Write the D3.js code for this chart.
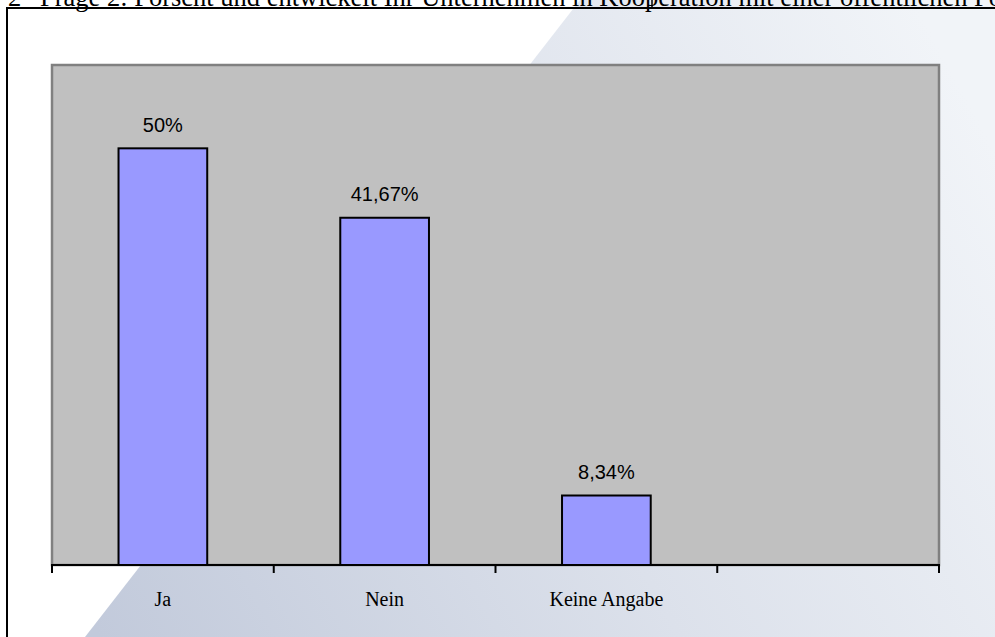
<!DOCTYPE html>
<html>
<head>
<meta charset="utf-8">
<script src="https://d3js.org/d3.v7.min.js"></script>
<style>
html,body{margin:0;padding:0;background:#fff;overflow:hidden;}
svg{display:block;}
</style>
</head>
<body>
<svg id="chart" width="995" height="637"></svg>
<script>
const categories = ["Ja", "Nein", "Keine Angabe", ""];
const values = [50, 41.67, 8.34, null];
const valueLabels = ["50%", "41,67%", "8,34%", ""];
const yDomain = [0, 60];
const headingNumber = "2";
const heading = "Frage 2: Forscht und entwickelt Ihr Unternehmen in Kooperation mit einer öffentlichen Forschungseinrichtung?";

const svg = d3.select("#chart");
const W = 995, H = 637;

// background decorative gradient
const defs = svg.append("defs");
const grad = defs.append("linearGradient").attr("id", "bgGrad")
  .attr("gradientUnits", "userSpaceOnUse")
  .attr("x1", 100).attr("y1", 637).attr("x2", 995).attr("y2", 150);
grad.append("stop").attr("offset", "0").attr("stop-color", "#c2cadb");
grad.append("stop").attr("offset", "0.5").attr("stop-color", "#dce1eb");
grad.append("stop").attr("offset", "1").attr("stop-color", "#f1f4f8");
svg.append("rect").attr("width", W).attr("height", H).attr("fill", "#fff");
svg.append("path").attr("d", "M580,0 L995,0 L995,637 L85,637 Z").attr("fill", "url(#bgGrad)");

// heading (partly cut off at top, as in the source)
svg.append("text").attr("x", 8).attr("y", 6)
  .attr("font-family", "Liberation Serif, Times New Roman, serif").attr("font-size", 26.5)
  .attr("fill", "#000").text(headingNumber);
svg.append("text").attr("x", 40).attr("y", 6)
  .attr("font-family", "Liberation Serif, Times New Roman, serif").attr("font-size", 26.5)
  .attr("fill", "#000").text(heading);

// outer frame
svg.append("line").attr("x1", 7).attr("x2", W).attr("y1", 8).attr("y2", 8).attr("stroke", "#000").attr("stroke-width", 2);
svg.append("line").attr("x1", 7).attr("x2", 7).attr("y1", 7).attr("y2", H).attr("stroke", "#000").attr("stroke-width", 2);
svg.append("line").attr("x1", 652).attr("x2", 652).attr("y1", 0).attr("y2", 8).attr("stroke", "#000").attr("stroke-width", 1.5);

// plot area
const plot = {left: 52, right: 939, top: 65, bottom: 565};
const x = d3.scaleBand().domain(d3.range(categories.length)).range([plot.left, plot.right]).paddingInner(0).paddingOuter(0);
const y = d3.scaleLinear().domain(yDomain).range([plot.bottom, plot.top]);

svg.append("rect").attr("x", plot.left).attr("y", plot.top)
  .attr("width", plot.right - plot.left).attr("height", plot.bottom - plot.top)
  .attr("fill", "#c0c0c0").attr("stroke", "#808080").attr("stroke-width", 2.5);

const barW = x.bandwidth() * 0.4;
const data = categories.map((c, i) => ({c, i, v: values[i], lab: valueLabels[i]})).filter(d => d.v != null);

svg.selectAll("rect.bar").data(data).enter().append("rect").attr("class", "bar")
  .attr("x", d => x(d.i) + (x.bandwidth() - barW) / 2)
  .attr("y", d => y(d.v))
  .attr("width", barW)
  .attr("height", d => y(0) - y(d.v))
  .attr("fill", "#9999ff").attr("stroke", "#000").attr("stroke-width", 2);

svg.selectAll("text.val").data(data).enter().append("text").attr("class", "val")
  .attr("x", d => x(d.i) + x.bandwidth() / 2)
  .attr("y", d => y(d.v) - 16.5)
  .attr("text-anchor", "middle")
  .attr("font-family", "Liberation Sans, Arial, sans-serif").attr("font-size", 20)
  .attr("fill", "#000").text(d => d.lab);

// x axis
const axisG = svg.append("g");
axisG.append("line").attr("x1", plot.left - 1).attr("x2", plot.right + 1)
  .attr("y1", plot.bottom).attr("y2", plot.bottom).attr("stroke", "#000").attr("stroke-width", 2);
const tickPos = d3.range(categories.length + 1).map(i => i < categories.length ? x(i) : x(categories.length - 1) + x.bandwidth());
axisG.selectAll("line.tick").data(tickPos).enter().append("line").attr("class", "tick")
  .attr("x1", d => d).attr("x2", d => d).attr("y1", plot.bottom).attr("y2", plot.bottom + 8)
  .attr("stroke", "#000").attr("stroke-width", 2);
axisG.selectAll("text.cat").data(categories).enter().append("text").attr("class", "cat")
  .attr("x", (d, i) => x(i) + x.bandwidth() / 2)
  .attr("y", 606)
  .attr("text-anchor", "middle")
  .attr("font-family", "Liberation Serif, Times New Roman, serif").attr("font-size", 20)
  .attr("fill", "#000").text(d => d);
</script>
</body>
</html>
